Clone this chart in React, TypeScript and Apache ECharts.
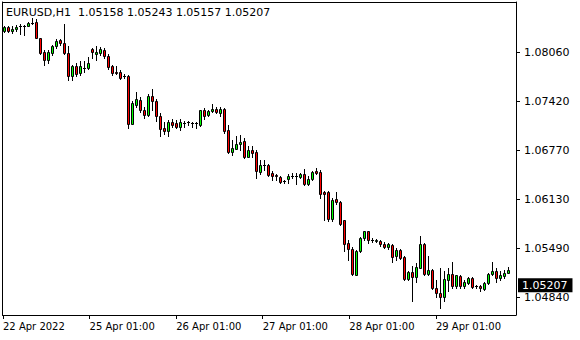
import { useEffect, useRef } from 'react';
import * as echarts from 'echarts';

const symbolTitle = 'EURUSD,H1';

const opens = [
  1.08336, 1.08394, 1.08336, 1.08368, 1.08402, 1.08411, 1.08411, 1.0845, 1.08467, 1.08249,
  1.08065, 1.07964, 1.08052, 1.08139, 1.08218, 1.08184, 1.08052, 1.07754, 1.07876, 1.07789,
  1.07855, 1.07855, 1.08104, 1.08039, 1.08052, 1.08096, 1.08017, 1.07876, 1.07802, 1.07802,
  1.07754, 1.07754, 1.07123, 1.07373, 1.07438, 1.07307, 1.07232, 1.07491, 1.07425, 1.07228,
  1.07074, 1.07022, 1.07153, 1.07132, 1.07087, 1.07132, 1.0714, 1.07132, 1.07132, 1.0711,
  1.07307, 1.07241, 1.0729, 1.0732, 1.07264, 1.0732, 1.07035, 1.06746, 1.06798, 1.06851,
  1.069, 1.06693, 1.06781, 1.06746, 1.06483, 1.0658, 1.06584, 1.06475, 1.06453, 1.06422,
  1.06365, 1.06396, 1.0644, 1.06437, 1.06422, 1.06466, 1.06334, 1.06396, 1.06496, 1.06492,
  1.06229, 1.06229, 1.0587, 1.06133, 1.06098, 1.05852, 1.05555, 1.0548, 1.05139, 1.05445,
  1.05621, 1.05708, 1.05598, 1.05589, 1.05585, 1.05546, 1.05498, 1.05533, 1.05379, 1.05467,
  1.05375, 1.05082, 1.05174, 1.05103, 1.05234, 1.05542, 1.05148, 1.05204, 1.04971, 1.04898,
  1.0484, 1.05073, 1.05148, 1.04985, 1.05126, 1.04985, 1.0503, 1.05095, 1.04985, 1.04994,
  1.0495, 1.0503, 1.05148, 1.05191, 1.05095, 1.05117, 1.05158,
];
const closes = [
  1.08394, 1.08345, 1.08372, 1.08394, 1.08407, 1.08407, 1.08446, 1.08454, 1.08249, 1.08052,
  1.07964, 1.0806, 1.08139, 1.08205, 1.08184, 1.08052, 1.07754, 1.07876, 1.0778, 1.07876,
  1.07859, 1.07921, 1.0806, 1.08073, 1.08104, 1.08008, 1.07863, 1.07797, 1.07797, 1.07731,
  1.0775, 1.07123, 1.07395, 1.07448, 1.073, 1.07232, 1.07491, 1.07416, 1.07219, 1.07057,
  1.07022, 1.07145, 1.0711, 1.07087, 1.0714, 1.07136, 1.07142, 1.07136, 1.07129, 1.07307,
  1.07228, 1.0729, 1.0732, 1.07272, 1.0732, 1.07022, 1.06746, 1.06804, 1.0686, 1.06887,
  1.06689, 1.06777, 1.06738, 1.06496, 1.06584, 1.06584, 1.06453, 1.06431, 1.06431, 1.06361,
  1.06368, 1.0644, 1.06442, 1.0644, 1.06466, 1.06334, 1.06396, 1.06483, 1.06475, 1.06194,
  1.06194, 1.0587, 1.06124, 1.06089, 1.05805, 1.05542, 1.05476, 1.05148, 1.05454, 1.05621,
  1.05708, 1.05598, 1.05594, 1.05592, 1.05542, 1.05498, 1.05546, 1.05366, 1.05467, 1.05358,
  1.05082, 1.05174, 1.05103, 1.0524, 1.05542, 1.05148, 1.05204, 1.04963, 1.04898, 1.0484,
  1.05082, 1.05148, 1.04985, 1.0513, 1.04985, 1.05043, 1.05095, 1.04977, 1.04988, 1.04963,
  1.0503, 1.05148, 1.05191, 1.05095, 1.0513, 1.05161, 1.05207,
];
const lows = [
  1.08325, 1.08328, 1.08315, 1.08336, 1.08306, 1.08293, 1.08402, 1.08437, 1.08244, 1.08039,
  1.07898, 1.07921, 1.0803, 1.08118, 1.08161, 1.08039, 1.07701, 1.07701, 1.07754, 1.07767,
  1.0781, 1.07842, 1.07986, 1.07955, 1.0803, 1.07986, 1.07846, 1.07767, 1.07776, 1.0771,
  1.07731, 1.07066, 1.07116, 1.07343, 1.07281, 1.07195, 1.07219, 1.07307, 1.07162, 1.06956,
  1.06991, 1.06956, 1.07079, 1.07066, 1.07035, 1.07079, 1.07101, 1.07079, 1.07066, 1.07096,
  1.07189, 1.07219, 1.07281, 1.07264, 1.07219, 1.07001, 1.0674, 1.06716, 1.0679, 1.06772,
  1.06672, 1.0668, 1.06693, 1.06409, 1.06466, 1.06514, 1.0644, 1.06387, 1.06378, 1.06343,
  1.06343, 1.06343, 1.06409, 1.06334, 1.06409, 1.06321, 1.06317, 1.06378, 1.06466, 1.06154,
  1.05861, 1.05839, 1.05848, 1.06071, 1.05787, 1.05445, 1.05329, 1.05139, 1.0513, 1.05437,
  1.05598, 1.05555, 1.05568, 1.05563, 1.05511, 1.05489, 1.0548, 1.05305, 1.05335, 1.05348,
  1.05073, 1.05073, 1.04797, 1.0505, 1.05226, 1.05139, 1.0513, 1.04958, 1.0484, 1.04701,
  1.04797, 1.04928, 1.04963, 1.04963, 1.04963, 1.04971, 1.05016, 1.04971, 1.04963, 1.04928,
  1.04941, 1.05016, 1.05139, 1.0505, 1.05073, 1.05095, 1.05157,
];
const highs = [
  1.08404, 1.08402, 1.08411, 1.08424, 1.08437, 1.0842, 1.08467, 1.08512, 1.08499, 1.08253,
  1.08096, 1.08096, 1.08161, 1.08239, 1.08239, 1.08437, 1.08139, 1.07898, 1.07921, 1.07942,
  1.07951, 1.08, 1.08118, 1.08139, 1.08126, 1.08118, 1.08039, 1.07898, 1.07876, 1.07833,
  1.07776, 1.0776, 1.07425, 1.0754, 1.07478, 1.07346, 1.07514, 1.0758, 1.07451, 1.07268,
  1.07153, 1.07175, 1.07185, 1.07175, 1.07185, 1.07162, 1.07162, 1.07153, 1.07153, 1.0731,
  1.07329, 1.07307, 1.07386, 1.07342, 1.07342, 1.07329, 1.0711, 1.06913, 1.06956, 1.06978,
  1.06935, 1.06834, 1.06825, 1.06781, 1.06641, 1.06641, 1.06597, 1.06505, 1.06466, 1.06431,
  1.06387, 1.06457, 1.06475, 1.06475, 1.06475, 1.06527, 1.06431, 1.06496, 1.0654, 1.06518,
  1.06246, 1.06246, 1.06146, 1.06233, 1.06102, 1.05861, 1.05592, 1.055, 1.05467, 1.05629,
  1.05717, 1.05717, 1.05621, 1.05611, 1.05598, 1.05568, 1.05555, 1.05542, 1.05489, 1.0548,
  1.05379, 1.05182, 1.05248, 1.05292, 1.05642, 1.05555, 1.05379, 1.05217, 1.05073, 1.05226,
  1.05182, 1.05226, 1.05305, 1.05139, 1.05139, 1.05073, 1.05103, 1.05103, 1.05007, 1.05007,
  1.05043, 1.05161, 1.05305, 1.05234, 1.05182, 1.05204, 1.05243,
];

const priceTicks = [1.0484, 1.0549, 1.0613, 1.0677, 1.0742, 1.0806];
const timeTickBars = [-0.5, 21.17, 42.83, 64.5, 86.17, 107.83];
const timeTickLabels = ['22 Apr 2022', '25 Apr 01:00', '26 Apr 01:00', '27 Apr 01:00', '28 Apr 01:00', '29 Apr 01:00'];

const FONT = '"DejaVu Sans", Verdana, sans-serif';
const X_MIN = -0.625;
const X_MAX = 127.875;
const Y_MIN = 1.0461;
const Y_MAX = 1.087237;
const UP = '#00ff00';
const DOWN = '#ff0000';

export default function App() {
  const ref = useRef<HTMLDivElement>(null);
  useEffect(() => {
    document.body.style.margin = '0';
    if (!ref.current) return;
    const chart = echarts.init(ref.current, undefined, { renderer: 'svg' });
    const last = opens.length - 1;
    const lastClose = closes[last];
    const data = opens.map((o, i) => [i, o, closes[i], lows[i], highs[i]]);
    const title = `${symbolTitle}  ${opens[last].toFixed(5)} ${highs[last].toFixed(5)} ${lows[last].toFixed(5)} ${closes[last].toFixed(5)}`;
    const frameAxis = {
      axisLine: { show: true, onZero: false, lineStyle: { color: '#000', width: 1 } },
      axisTick: { show: false },
      axisLabel: { show: false },
      splitLine: { show: false },
    };
    const renderItem = (_params: any, api: any) => {
      const i = api.value(0);
      const o = api.value(1);
      const c = api.value(2);
      const l = api.value(3);
      const h = api.value(4);
      const pO = api.coord([i, o]);
      const pC = api.coord([i, c]);
      const pL = api.coord([i, l]);
      const pH = api.coord([i, h]);
      const cx = Math.floor(pO[0]) + 0.5;
      const yHi = Math.round(pH[1]);
      const yLo = Math.round(pL[1]) + 1;
      const yTop = Math.round(Math.min(pO[1], pC[1])) + 0.5;
      const yBot = Math.round(Math.max(pO[1], pC[1])) + 0.5;
      const children: any[] = [
        {
          type: 'line',
          shape: { x1: cx, y1: yHi, x2: cx, y2: yLo },
          style: { stroke: '#000', lineWidth: 1 },
        },
      ];
      if (yBot - yTop < 1) {
        children.push({
          type: 'line',
          shape: { x1: cx - 1.5, y1: yTop, x2: cx + 1.5, y2: yTop },
          style: { stroke: '#000', lineWidth: 1 },
        });
      } else {
        children.push({
          type: 'rect',
          shape: { x: cx - 1, y: yTop, width: 2, height: yBot - yTop },
          style: { fill: c > o ? UP : DOWN, stroke: '#000', lineWidth: 1 },
        });
      }
      return { type: 'group', children };
    };
    chart.setOption({
      animation: false,
      backgroundColor: '#fff',
      grid: { left: 2, top: 2, right: 64, bottom: 25, show: false },
      graphic: [
        {
          type: 'text', x: 6, y: 12.5,
          style: { text: title, font: `11px ${FONT}`, fill: '#000', verticalAlign: 'middle' },
        },
      ],
      xAxis: [
        {
          type: 'value',
          min: X_MIN,
          max: X_MAX,
          position: 'bottom',
          axisLine: { show: true, onZero: false, lineStyle: { color: '#000', width: 1 } },
          splitLine: { show: false },
          axisTick: { show: true, length: 4, customValues: timeTickBars, lineStyle: { color: '#000' } },
          axisLabel: {
            customValues: timeTickBars,
            align: 'left',
            margin: 6,
            color: '#000',
            fontSize: 10,
            fontFamily: FONT,
            formatter: (v: number) => {
              const k = timeTickBars.findIndex((t) => Math.abs(t - v) < 0.01);
              return k >= 0 ? timeTickLabels[k] : '';
            },
          },
        },
        { type: 'value', min: X_MIN, max: X_MAX, position: 'top', ...frameAxis },
      ],
      yAxis: [
        {
          type: 'value',
          position: 'right',
          min: Y_MIN,
          max: Y_MAX,
          axisLine: { show: true, onZero: false, lineStyle: { color: '#000', width: 1 } },
          splitLine: { show: false },
          axisTick: { show: true, length: 4, customValues: priceTicks, lineStyle: { color: '#000' } },
          axisLabel: {
            customValues: priceTicks,
            margin: 8,
            color: '#000',
            fontSize: 11,
            fontFamily: FONT,
            formatter: (v: number) => v.toFixed(5),
          },
        },
        { type: 'value', min: Y_MIN, max: Y_MAX, position: 'left', ...frameAxis },
      ],
      series: [
        {
          type: 'custom',
          data,
          encode: { x: 0, y: [1, 2, 3, 4] },
          renderItem,
          silent: true,
        },
        {
          type: 'line',
          data: [[last, lastClose]],
          symbol: 'none',
          silent: true,
          lineStyle: { opacity: 0 },
          markLine: {
            symbol: 'none',
            silent: true,
            lineStyle: { color: 'rgba(0,0,0,0)', width: 1, type: 'solid', opacity: 1 },
            label: {
              show: true,
              position: 'end',
              distance: 2,
              formatter: () => lastClose.toFixed(5),
              backgroundColor: '#000',
              color: '#fff',
              padding: [2, 5, 1, 4],
              fontSize: 11,
              fontFamily: FONT,
            },
            data: [{ yAxis: lastClose }],
          },
        },
      ],
    });
    return () => chart.dispose();
  }, []);
  return <div ref={ref} style={{ width: 580, height: 340 }} />;
}
